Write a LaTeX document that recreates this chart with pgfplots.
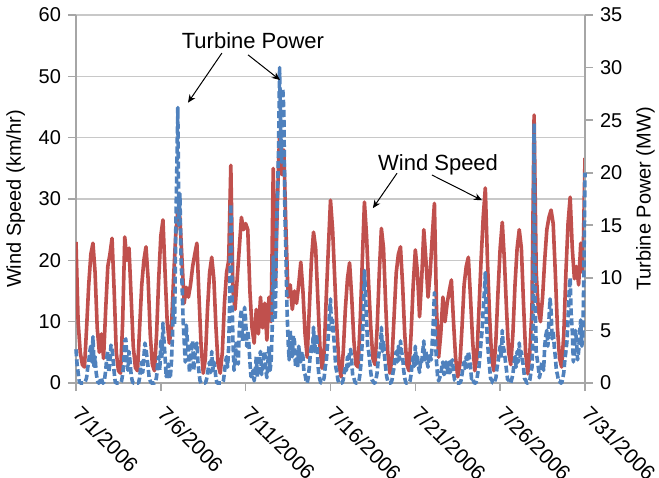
\documentclass[border=0pt]{standalone}
\usepackage{fontspec}
\setmainfont{Liberation Sans}
\usepackage{pgfplots}
\pgfplotsset{compat=1.18}
\usepackage{pgfplotstable}
\usetikzlibrary{arrows.meta}
\definecolor{wred}{HTML}{C0504D}
\definecolor{pblue}{HTML}{4F81BD}
\definecolor{gridc}{HTML}{C8C8C8}
\definecolor{axc}{HTML}{A6A6A6}

% t = day since 7/1/2006 00:00, w = wind speed (km/hr)
\pgfplotstableread{
t w
0 23
0.125 10
0.25 5
0.375 3
0.5 2.6
0.625 9
0.75 16
0.875 21
1 22.8
1.125 18
1.25 9
1.375 5
1.5 8
1.625 4
1.75 12
1.875 19
2 21
2.125 23.6
2.25 15
2.375 5
2.5 2
2.625 1.6
2.75 10
2.875 23.8
3 20
3.125 22
3.25 14
3.375 6
3.5 2.5
3.625 2
3.75 9
3.875 16
4 20
4.125 22.2
4.25 17
4.375 8
4.5 3
4.625 2
4.75 8
4.875 17
5 24
5.125 26.6
5.25 18
5.375 10
5.5 6.5
5.625 9
5.75 17
5.875 24
6 28.2
6.125 27
6.25 20
6.375 13
6.5 15.6
6.625 14
6.75 16
6.875 19
7 21
7.125 22.8
7.25 14
7.375 6
7.5 1.6
7.625 4
7.75 12
7.875 18
8 20.5
8.125 17
8.25 9
8.375 3
8.5 1.6
8.625 5
8.75 13
8.875 18
9 20
9.125 35.5
9.25 15
9.375 12
9.5 17
9.625 22
9.75 27
9.875 25
10 26
10.125 25
10.25 15
10.375 9
10.5 6.5
10.625 12
10.75 8
10.875 14
11 9
11.125 13
11.25 7
11.375 14
11.5 10
11.625 35
11.75 16
11.875 30
12 41
12.125 34
12.25 38
12.375 25
12.5 14
12.625 16
12.75 12
12.875 15
13 13
13.125 16
13.25 19.7
13.375 15
13.5 8
13.625 4.2
13.75 12
13.875 20
14 24.6
14.125 22
14.25 14
14.375 6
14.5 2.4
14.625 5
14.75 14
14.875 22
15 29.8
15.125 25
15.25 17
15.375 9
15.5 3
15.625 1
15.75 5
15.875 12
16 17
16.125 19.6
16.25 14
16.375 7
16.5 3
16.625 2.6
16.75 10
16.875 20
17 29.5
17.125 24
17.25 16
17.375 9
17.5 4
17.625 3
17.75 9
17.875 18
18 25.2
18.125 22
18.25 13
18.375 5
18.5 1.6
18.625 4
18.75 11
18.875 18
19 21
19.125 22.2
19.25 16
19.375 8
19.5 3
19.625 2
19.75 8
19.875 16
20 21.7
20.125 18
20.25 10.8
20.375 17
20.5 25
20.625 20
20.75 14
20.875 18
21 24
21.125 29.3
21.25 12
21.375 4.2
21.5 8
21.625 14
21.75 10
21.875 13
22 15
22.125 16.8
22.25 10
22.375 4
22.5 1
22.625 3
22.75 9
22.875 16
23 19
23.125 20.5
23.25 14
23.375 7
23.5 2
23.625 4
23.75 12
23.875 20
24 27
24.125 31.8
24.25 20
24.375 11
24.5 4
24.625 2
24.75 7
24.875 15
25 22
25.125 26.2
25.25 20
25.375 12
25.5 5
25.625 3
25.75 8
25.875 16
26 22
26.125 25
26.25 22
26.375 13
26.5 5
26.625 1.5
26.75 5
26.875 12
27 43.7
27.125 18
27.25 12
27.375 10
27.5 14
27.625 20
27.75 25
27.875 27
28 28.2
28.125 26
28.25 18
28.375 9
28.5 4
28.625 2.6
28.75 8
28.875 18
29 26
29.125 30.3
29.25 22
29.375 17
29.5 19
29.625 16
29.75 22.8
29.875 18
30 36.7
}\wind

% t = day since 7/1/2006 00:00, p = turbine power (MW)
\pgfplotstableread{
t p
0 3.2
0.0625 1.8
0.125 1.0
0.1875 0.2
0.25 0
0.3125 0
0.375 0
0.4375 0
0.5 0
0.5625 0.2
0.625 0.5
0.6875 1.4
0.75 2.0
0.8125 3.0
0.875 3.5
0.9375 2.0
1 4.4
1.0625 1.6
1.125 2.5
1.1875 1.0
1.25 0.3
1.3125 0
1.375 0
1.4375 0.3
1.5 0.5
1.5625 0
1.625 0
1.6875 0.4
1.75 1.2
1.8125 2.4
1.875 3.0
1.9375 1.0
2 2.0
2.0625 3.6
2.125 3.2
2.1875 2.2
2.25 1.0
2.3125 0.1
2.375 0
2.4375 0
2.5 0
2.5625 0
2.625 0
2.6875 0.2
2.75 0.8
2.8125 1.8
2.875 4.0
2.9375 4.2
3 2.2
3.0625 1.2
3.125 3.0
3.1875 2.0
3.25 0.8
3.3125 0.2
3.375 0
3.4375 0
3.5 0
3.5625 0
3.625 0
3.6875 0
3.75 0.5
3.8125 1.5
3.875 2.0
3.9375 1.0
4 2.5
4.0625 3.8
4.125 3.2
4.1875 2.4
4.25 1.5
4.3125 0.5
4.375 0.2
4.4375 0
4.5 0
4.5625 0
4.625 0
4.6875 0.1
4.75 0.6
4.8125 1.9
4.875 2.5
4.9375 1.2
5 4.0
5.0625 2.5
5.125 5.7
5.1875 4.0
5.25 2.5
5.3125 0.6
5.375 1.0
5.4375 1.8
5.5 0.4
5.5625 0.6
5.625 2.0
5.6875 4.5
5.75 8.2
5.8125 5.5
5.875 14
5.9375 20
6 26.2
6.0625 15
6.125 18
6.1875 12
6.25 9.5
6.3125 6
6.375 4
6.4375 2
6.5 5.5
6.5625 4
6.625 3
6.6875 1
6.75 2
6.8125 3.5
6.875 4
6.9375 1.2
7 2.5
7.0625 3.5
7.125 3.8
7.1875 2.0
7.25 1.0
7.3125 0.2
7.375 0
7.4375 0
7.5 0
7.5625 0
7.625 0
7.6875 0.3
7.75 0.8
7.8125 1.6
7.875 2.0
7.9375 1.0
8 3.0
8.0625 1.2
8.125 2.0
8.1875 1.4
8.25 0.4
8.3125 0
8.375 0
8.4375 0
8.5 0
8.5625 0
8.625 0
8.6875 0.2
8.75 1.0
8.8125 2.0
8.875 2.5
8.9375 1.5
9 3.5
9.0625 8
9.125 17
9.1875 9
9.25 4.0
9.3125 1.2
9.375 2.0
9.4375 3.8
9.5 3.0
9.5625 1.8
9.625 5.0
9.6875 6.2
9.75 7.0
9.8125 4.0
9.875 5.5
9.9375 7.2
10 6.0
10.0625 3.5
10.125 5.0
10.1875 3.8
10.25 2.0
10.3125 0.6
10.375 0.6
10.4375 1.2
10.5 0.2
10.5625 1.0
10.625 2.5
10.6875 0.6
10.75 1.0
10.8125 2.6
10.875 3.0
10.9375 0.8
11 1.5
11.0625 2.6
11.125 3.0
11.1875 1.2
11.25 0.5
11.3125 2.0
11.375 3.5
11.4375 1.2
11.5 2.0
11.5625 5.0
11.625 12
11.6875 8.0
11.75 6.0
11.8125 14
11.875 18
11.9375 22
12 30
12.0625 24
12.125 21
12.1875 28
12.25 26
12.3125 16
12.375 12
12.4375 7
12.5 4.0
12.5625 2.2
12.625 5.0
12.6875 3.0
12.75 2.5
12.8125 4.5
12.875 4.0
12.9375 1.5
13 2.5
13.0625 1.5
13.125 3.5
13.1875 2.6
13.25 2.0
13.3125 3.0
13.375 2.5
13.4375 1.0
13.5 0.8
13.5625 0.2
13.625 0
13.6875 0.5
13.75 1.5
13.8125 2.8
13.875 3.5
13.9375 3.0
14 5.3
14.0625 3.0
14.125 4.0
14.1875 4.6
14.25 2.0
14.3125 0.8
14.375 0.3
14.4375 0
14.5 0
14.5625 0.2
14.625 0.5
14.6875 1.5
14.75 2.0
14.8125 3.4
14.875 4.5
14.9375 6.5
15 8.0
15.0625 5.0
15.125 6.0
15.1875 4.5
15.25 3.0
15.3125 1.5
15.375 1.0
15.4375 0.3
15.5 0
15.5625 0
15.625 0
15.6875 0
15.75 0.3
15.8125 1.0
15.875 1.5
15.9375 1.2
16 2.5
16.0625 1.6
16.125 3.0
16.1875 3.2
16.25 2.0
16.3125 0.6
16.375 0.5
16.4375 0.1
16.5 0
16.5625 0
16.625 0
16.6875 0.3
16.75 1.0
16.8125 2.2
16.875 4.0
16.9375 6.5
17 10.7
17.0625 8.5
17.125 6.0
17.1875 3.5
17.25 3.0
17.3125 2.0
17.375 1.0
17.4375 0.3
17.5 0.2
17.5625 0
17.625 0
17.6875 0.4
17.75 1.0
17.8125 2.2
17.875 3.0
17.9375 3.0
18 5.3
18.0625 3.0
18.125 4.0
18.1875 2.5
18.25 1.5
18.3125 0.6
18.375 0.2
18.4375 0
18.5 0
18.5625 0
18.625 0.3
18.6875 1.0
18.75 1.5
18.8125 2.4
18.875 3.0
18.9375 2.0
19 3.5
19.0625 2.2
19.125 4.0
19.1875 3.0
19.25 2.5
19.3125 1.2
19.375 0.5
19.4375 0
19.5 0
19.5625 0
19.625 0
19.6875 0.2
19.75 0.8
19.8125 1.8
19.875 2.5
19.9375 1.6
20 3.5
20.0625 1.8
20.125 2.5
20.1875 1.6
20.25 1.0
20.3125 2.2
20.375 2.0
20.4375 3.0
20.5 4.0
20.5625 2.2
20.625 3.0
20.6875 2.0
20.75 1.5
20.8125 2.8
20.875 2.5
20.9375 2.2
21 4.0
21.0625 6.0
21.125 8.6
21.1875 4.0
21.25 2.0
21.3125 0.6
21.375 0.2
21.4375 0.5
21.5 0.8
21.5625 1.6
21.625 2.0
21.6875 0.8
21.75 1.0
21.8125 2.0
21.875 1.5
21.9375 0.8
22 2.0
22.0625 1.0
22.125 2.0
22.1875 2.2
22.25 1.0
22.3125 0.3
22.375 0.2
22.4375 0
22.5 0
22.5625 0
22.625 0
22.6875 0.2
22.75 0.8
22.8125 1.5
22.875 2.0
22.9375 1.4
23 2.5
23.0625 1.5
23.125 3.0
23.1875 2.4
23.25 1.5
23.3125 0.4
23.375 0.5
23.4375 0.1
23.5 0
23.5625 0
23.625 0.3
23.6875 1.0
23.75 1.5
23.8125 2.6
23.875 4.0
23.9375 5.0
24 7.0
24.0625 8.5
24.125 10.5
24.1875 6.0
24.25 4.0
24.3125 2.6
24.375 1.5
24.4375 0.4
24.5 0.3
24.5625 0
24.625 0
24.6875 0.2
24.75 0.5
24.8125 1.4
24.875 2.0
24.9375 2.8
25 3.5
25.0625 2.4
25.125 5.0
25.1875 3.4
25.25 3.0
25.3125 2.0
25.375 1.2
25.4375 0.3
25.5 0.3
25.5625 0
25.625 0
25.6875 0.4
25.75 0.8
25.8125 1.8
25.875 2.5
25.9375 1.5
26 3.0
26.0625 2.0
26.125 3.8
26.1875 2.4
26.25 3.0
26.3125 2.2
26.375 1.5
26.4375 0.4
26.5 0.3
26.5625 0
26.625 0
26.6875 0.1
26.75 0.3
26.8125 1.0
26.875 1.5
26.9375 5.0
27 24.7
27.0625 8.0
27.125 3.0
27.1875 2.2
27.25 1.5
27.3125 0.5
27.375 1.0
27.4375 1.8
27.5 2.0
27.5625 1.2
27.625 3.5
27.6875 4.5
27.75 5.0
27.8125 3.5
27.875 6.0
27.9375 8.0
28 7.0
28.0625 4.2
28.125 5.0
28.1875 3.5
28.25 2.5
28.3125 1.2
28.375 0.8
28.4375 0.2
28.5 0.2
28.5625 0
28.625 0
28.6875 0.4
28.75 1.0
28.8125 2.2
28.875 3.0
28.9375 4.0
29 6.0
29.0625 8.5
29.125 10.0
29.1875 6.5
29.25 5.0
29.3125 2.0
29.375 3.0
29.4375 5.0
29.5 4.0
29.5625 2.2
29.625 3.0
29.6875 5.0
29.75 6.0
29.8125 3.5
29.875 4.5
29.9375 11
30 20
}\power

\begin{document}
\fontsize{10}{12}\selectfont
\begin{tikzpicture}
\path[use as bounding box] (-38pt,-47pt) rectangle (291.5pt,191.5pt);
\begin{axis}[
  at={(0,0)}, anchor=south west,
  scale only axis, width=254.5pt, height=184pt,
  xmin=0, xmax=30, ymin=0, ymax=60,
  xtick={0,5,...,30}, ytick={0,10,...,60},
  xticklabels={7/1/2006,7/6/2006,7/11/2006,7/16/2006,7/21/2006,7/26/2006,7/31/2006},
  axis x line*=bottom, axis y line*=left,
  ymajorgrids, grid style={gridc, line width=0.8pt},
  axis line style={axc, line width=0.8pt, -},
  tick style={axc, line width=0.8pt},
  tick align=outside, major tick length=4pt,
  ylabel={Wind Speed (km/hr)},
  xticklabel style={rotate=-45, anchor=north west, inner sep=1pt, yshift=-1.5pt, xshift=6pt, font=\fontsize{10.5}{12.6}\selectfont},
  /pgf/number format/assume math mode=true,
]
\addplot[wred, line width=1.8pt, line join=round, no markers] table[x=t,y=w]{\wind};
\end{axis}
\begin{axis}[
  at={(0,0)}, anchor=south west,
  scale only axis, width=254.5pt, height=184pt,
  xmin=0, xmax=30, ymin=0, ymax=35,
  ytick={0,5,...,35},
  axis x line=none, axis y line*=right,
  axis line style={axc, line width=0.8pt, -},
  tick style={axc, line width=0.8pt},
  tick align=outside, major tick length=4pt,
  ylabel={Turbine Power (MW)},
  /pgf/number format/assume math mode=true,
  clip=false,
]
\addplot[pblue, line width=1.8pt, line join=round, dash pattern=on 3.5pt off 1.5pt, no markers] table[x=t,y=p]{\power};
\node[font=\fontsize{11}{13}\selectfont] at (axis cs:10.43,32.55) {Turbine Power};
\draw[-{Stealth[length=4pt,width=3.5pt]}, line width=0.5pt] (axis cs:8.6,31.38) -- (axis cs:6.6,26.66);
\draw[-{Stealth[length=4pt,width=3.5pt]}, line width=0.5pt] (axis cs:10.14,31.21) -- (axis cs:12.02,28.82);
\node[font=\fontsize{11}{13}\selectfont] at (axis cs:21.34,20.71) {Wind Speed};
\draw[-{Stealth[length=4pt,width=3.5pt]}, line width=0.5pt] (axis cs:18.92,19.95) -- (axis cs:17.5,16.63);
\draw[-{Stealth[length=4pt,width=3.5pt]}, line width=0.5pt] (axis cs:20.98,19.78) -- (axis cs:23.93,17.38);
\end{axis}
\end{tikzpicture}
\end{document}
